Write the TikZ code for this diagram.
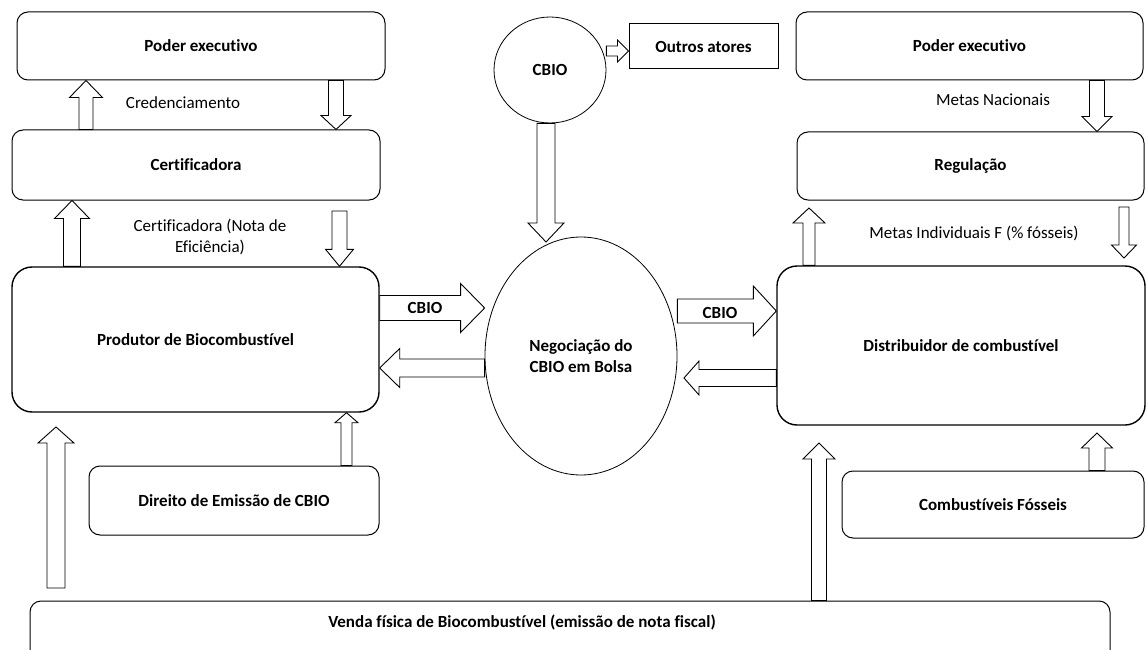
\documentclass[tikz,border=0pt]{standalone}
\usepackage{fontspec}
\setmainfont{Carlito}[Ligatures=CommonOff]
\usetikzlibrary{shapes.geometric,calc}

\tikzset{
  box/.style={draw, rounded corners=11pt, line width=1pt, inner sep=0pt, font=\bfseries},
  bigbox/.style={box, rounded corners=20pt, line width=1.4pt},
  oval/.style={draw, ellipse, line width=0.8pt, inner sep=0pt, font=\bfseries, align=center},
  lbl/.style={inner sep=0pt, align=center},
  fatline/.style={draw, fill=white, line width=0.9pt, line join=miter},
}

% block arrow: from, to, shaft width, head width, head length
\newcommand{\fatarrow}[5]{%
  \draw[fatline] let \p1=#1, \p2=#2,
      \n1={atan2(\y2-\y1,\x2-\x1)}, \n2={veclen(\x2-\x1,\y2-\y1)} in
    [shift={(\p1)}, rotate=\n1]
    (0pt,{-#3pt/2}) -- ({\n2-#5pt},{-#3pt/2}) -- ({\n2-#5pt},{-#4pt/2})
    -- ({\n2},0pt) -- ({\n2-#5pt},{#4pt/2}) -- ({\n2-#5pt},{#3pt/2})
    -- (0pt,{#3pt/2}) -- cycle;
}

\begin{document}
\fontsize{17}{20.5}\selectfont
\begin{tikzpicture}[x=1pt, y=-1pt]
\useasboundingbox (0,0) rectangle (1148,650);

% left column
\node[box, minimum width=368, minimum height=68] (poderL) at (201,46) {Poder executivo};
\node[box, minimum width=368, minimum height=70] (cert) at (196,165) {Certificadora};
\node[bigbox, minimum width=367, minimum height=145] (prod) at (195.5,339.5) {Produtor de Biocombustível};
\node[box, minimum width=290, minimum height=69] (direito) at (234,500.5) {Direito de Emissão de CBIO};

% middle
\node[oval, minimum width=112, minimum height=106] (cbio) at (550,70) {CBIO};
\node[draw, line width=1pt, minimum width=149, minimum height=45, font=\bfseries] (outros) at (703.5,46.5) {Outros atores};
\node[oval, minimum width=192, minimum height=238] (neg) at (581,356) {Negociação do\\CBIO em Bolsa};

% right column
\node[box, minimum width=347, minimum height=68] (poderR) at (969.5,46) {Poder executivo};
\node[box, minimum width=347, minimum height=68] (reg) at (970.5,166) {Regulação};
\node[bigbox, minimum width=368, minimum height=159] (dist) at (961,345.5) {Distribuidor de combustível};
\node[box, minimum width=302, minimum height=67] (comb) at (993,504.5) {Combustíveis Fósseis};

% bottom
\node[box, minimum width=1080, minimum height=64] (venda) at (570,633) {};
\node[lbl, font=\bfseries] (vendatxt) at (522,622) {Venda física de Biocombustível (emissão de nota fiscal)};

% labels
\node[lbl] (cred) at (183,103) {Credenciamento};
\node[lbl] (nota) at (210,237) {Certificadora (Nota de\\Eficiência)};
\node[lbl] (metasnac) at (993,100) {Metas Nacionais};
\node[lbl] (metasind) at (974,233) {Metas Individuais F (\% fósseis)};

% free ends
\coordinate (c1) at (339.5,211);
\coordinate (c2) at (56,588);
\coordinate (c3) at (56,427);
\coordinate (c4) at (546,242);
\coordinate (c5) at (684,378);
\coordinate (c6) at (809,208);
\coordinate (c7) at (1124,207);
\coordinate (c8) at (1124,258);
\coordinate (c9) at (819,443);
\coordinate (c10) at (1097,433);

% arrows
\fatarrow{(86,0 |- cert.north)}{(86,0 |- poderL.south)}{14}{33}{17}
\fatarrow{(336,0 |- poderL.south)}{(336,0 |- cert.north)}{15}{30}{14}
\fatarrow{(72,0 |- prod.north)}{(72,0 |- cert.south)}{17}{35}{18}
\fatarrow{(c1)}{(339.5,0 |- prod.north)}{15}{28}{17}
\fatarrow{(346.5,0 |- direito.north)}{(346.5,0 |- prod.south)}{11}{23}{10}
\fatarrow{(c2)}{(c3)}{18}{36}{16}

\fatarrow{(prod.east |- 0,308)}{(neg.west |- 0,308)}{25}{49}{24}
\fatarrow{(neg.west |- 0,368)}{(prod.east |- 0,368)}{18}{39}{20}
\fatarrow{(cbio.east |- 0,51)}{(outros.west |- 0,51)}{10}{22}{11}
\fatarrow{(546,0 |- cbio.south)}{(c4)}{18}{36}{19}
\fatarrow{(neg.east |- 0,311)}{(dist.west |- 0,311)}{24}{50}{23}
\fatarrow{(dist.west |- 0,378)}{(c5)}{17}{34}{15}

\fatarrow{(1097,0 |- poderR.south)}{(1097,0 |- reg.north)}{15}{30}{15}
\fatarrow{(809,0 |- dist.north)}{(c6)}{12}{32}{15}
\fatarrow{(c7)}{(c8)}{10}{25}{13}
\fatarrow{(819,0 |- venda.north)}{(c9)}{15}{32}{16}
\fatarrow{(1097,0 |- comb.north)}{(c10)}{16}{31}{15}

\node[lbl, font=\bfseries] (cbiolblA) at (425,308) {CBIO};
\node[lbl, font=\bfseries] (cbiolblB) at (720,313) {CBIO};
\end{tikzpicture}
\end{document}
